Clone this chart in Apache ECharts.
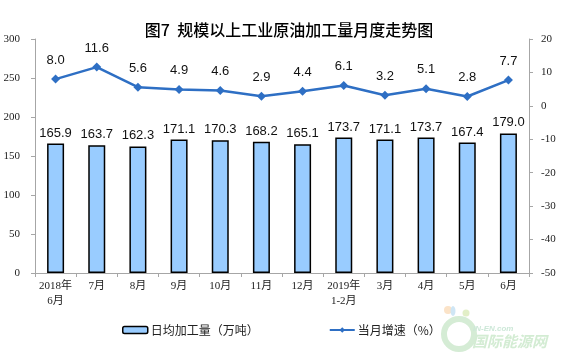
<!DOCTYPE html>
<html>
<head>
<meta charset="utf-8">
<script src="https://cdn.jsdelivr.net/npm/echarts@6/dist/echarts.min.js"></script>
<style>
html,body{margin:0;padding:0;background:#fff;}
#c{width:561px;height:357px;}
</style>
</head>
<body>
<div id="c"></div>
<script>
var categories = ['2018年\n6月','7月','8月','9月','10月','11月','12月','2019年\n1-2月','3月','4月','5月','6月'];
var dailyOutput = [165.9,163.7,162.3,171.1,170.3,168.2,165.1,173.7,171.1,173.7,167.4,179.0];
var growthRate = [8.0,11.6,5.6,4.9,4.6,2.9,4.4,6.1,3.2,5.1,2.8,7.7];
var leftTicks = {min:0,max:300,interval:50};
var rightTicks = {min:-50,max:20,interval:10};

var chart = echarts.init(document.getElementById('c'), null, {renderer:'canvas'});
var serif = 'Liberation Serif, "Noto Sans CJK SC", serif';
var sans = 'Liberation Sans, Arial, sans-serif';
var axisLineStyle = {color:'#a6a6a6', width:1};
chart.setOption({
  animation:false,
  backgroundColor:'#fff',
  title:{
    text:'图7  规模以上工业原油加工量月度走势图',
    left:284, top:17, textAlign:'center',
    textStyle:{fontSize:16, fontWeight:500, color:'#000', fontFamily:'"Noto Sans CJK SC", sans-serif'}
  },
  legend:{
    left:117, top:319, itemGap:70, itemWidth:25, itemHeight:7,
    textStyle:{fontSize:12, color:'#222', fontFamily:'"Noto Sans CJK SC", sans-serif', padding:[0,0,0,-2]},
    data:[
      {name:'日均加工量（万吨）', icon:'roundRect', itemStyle:{color:'#99CCFF', borderColor:'#000', borderWidth:1.5}},
      {name:'当月增速（%）'}
    ]
  },
  grid:{left:35, right:32, top:39, bottom:84, containLabel:false},
  xAxis:{
    type:'category', data:categories, boundaryGap:true,
    axisLine:{show:true, lineStyle:axisLineStyle},
    axisTick:{show:true, alignWithLabel:false, length:4, lineStyle:axisLineStyle},
    axisLabel:{fontSize:11, color:'#222', fontFamily:serif, lineHeight:15, margin:6, interval:0}
  },
  yAxis:[
    {type:'value', min:leftTicks.min, max:leftTicks.max, interval:leftTicks.interval,
     axisLine:{show:true, lineStyle:axisLineStyle},
     axisTick:{show:true, length:4, lineStyle:axisLineStyle},
     splitLine:{show:false},
     axisLabel:{fontSize:11, color:'#222', fontFamily:serif, margin:15}},
    {type:'value', min:rightTicks.min, max:rightTicks.max, interval:rightTicks.interval,
     axisLine:{show:true, lineStyle:axisLineStyle},
     axisTick:{show:true, length:4, lineStyle:axisLineStyle},
     splitLine:{show:false},
     axisLabel:{fontSize:11, color:'#222', fontFamily:serif, margin:12}}
  ],
  series:[
    {name:'日均加工量（万吨）', type:'bar', data:dailyOutput, barWidth:17,
     itemStyle:{color:'#99CCFF', borderColor:'#000', borderWidth:1.5},
     label:{show:true, position:'top', distance:4, fontSize:13, color:'#111', fontFamily:sans,
       formatter:function(p){return p.value.toFixed(1);}}},
    {name:'当月增速（%）', type:'line', yAxisIndex:1, data:growthRate,
     symbol:'diamond', symbolSize:9,
     lineStyle:{color:'#2E6FC4', width:2.5},
     itemStyle:{color:'#2E6FC4'},
     label:{show:true, position:'top', distance:8, fontSize:13, color:'#111', fontFamily:sans,
       formatter:function(p){return p.value.toFixed(1);}}}
  ],
  graphic:[
    {type:'circle', shape:{cx:459, cy:334, r:15}, style:{fill:'none', stroke:'#d5ecd5', lineWidth:6}, silent:true},
    {type:'circle', shape:{cx:448, cy:310, r:4}, style:{fill:'#fbe3c8'}, silent:true},
    {type:'ellipse', shape:{cx:453, cy:311, rx:2.5, ry:5}, style:{fill:'#cfe6f5'}, silent:true},
    {type:'circle', shape:{cx:466, cy:313, r:3.5}, style:{fill:'#e2efc7'}, silent:true},
    {type:'text', left:473, top:325, style:{text:'IN-EN.com', fontSize:8, fontStyle:'italic', fontWeight:'bold', fill:'#cde8d8', fontFamily:sans}, silent:true},
    {type:'text', left:472, top:334, style:{text:'国际能源网', fontSize:15, fontStyle:'italic', fontWeight:'bold', fill:'#d3ecd3', fontFamily:'"Noto Sans CJK SC", sans-serif'}, silent:true}
  ]
});
</script>
</body>
</html>
